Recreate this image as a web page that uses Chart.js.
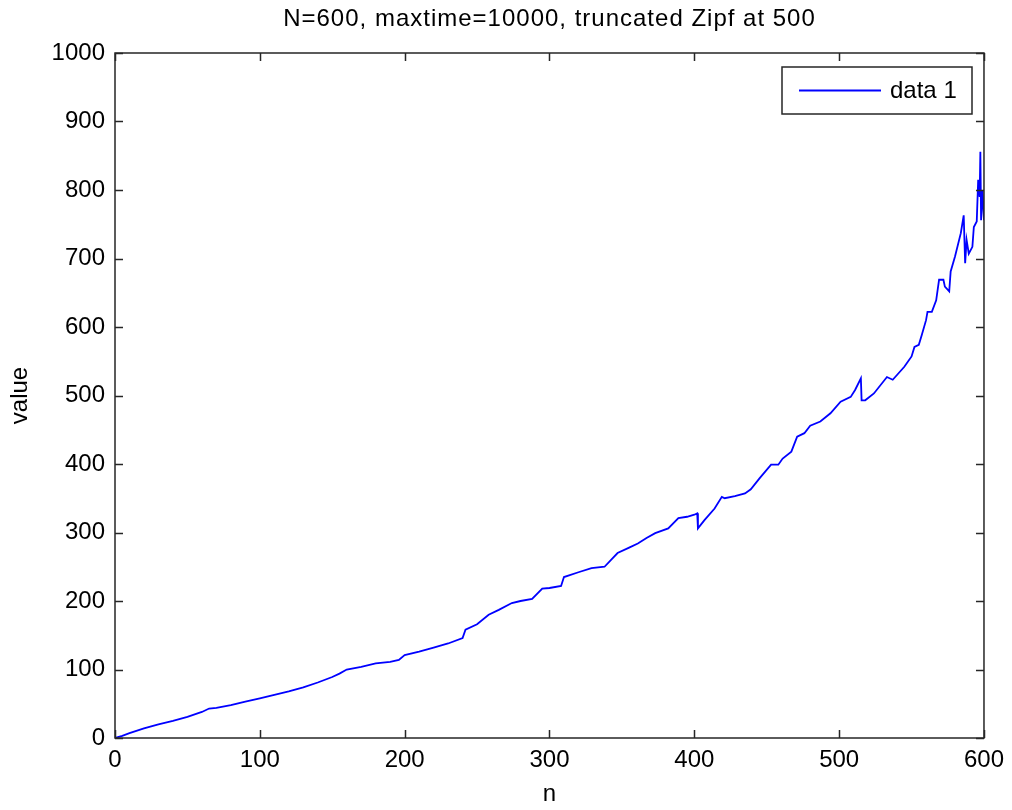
<!DOCTYPE html>
<html>
<head>
<meta charset="utf-8">
<script src="https://cdn.jsdelivr.net/npm/chart.js@4"></script>
<style>
  html, body { margin: 0; padding: 0; background: #fff; }
  #wrap { width: 1012px; height: 810px; }
</style>
</head>
<body>
<div id="wrap"><canvas id="plot" width="1012" height="810"></canvas></div>
<script>
const titleText = "N=600, maxtime=10000, truncated Zipf at 500";
const seriesName = "data 1";

const nValues = [0, 5, 10, 20, 30, 40, 50, 60, 65, 70, 80, 90, 100, 110, 120, 130, 140, 150, 155, 160,
  170, 180, 190, 196, 200, 210, 220, 230, 240, 242, 250, 258, 265, 274, 280, 288, 295, 300, 308, 310,
  320, 329, 338, 347, 355, 361, 367, 373, 382, 389, 395, 400, 402, 402.5, 407, 414, 419, 421, 428, 435,
  439, 445, 453, 458, 461, 467, 471, 476, 480, 487, 494, 501, 508, 511, 515, 515.5, 518, 524, 533, 537,
  545, 550, 552, 555, 557, 560, 561, 564, 567, 569, 572, 573, 576, 577, 580, 584, 586, 587, 588, 589.5,
  592, 593, 595, 596, 597, 597.5, 598, 599, 600];
const values = [0, 3, 7, 14, 20, 25, 31, 38, 43, 44, 48, 53, 58, 63, 68, 74, 81, 89, 94, 100,
  104, 109, 111, 114, 121, 126, 132, 138, 146, 158, 166, 180, 187, 197, 200, 203, 218, 219, 222, 235,
  242, 248, 250, 270, 278, 284, 292, 299, 306, 321, 323, 326, 328, 306, 318, 335, 352, 350, 353, 357,
  363, 379, 399, 399, 408, 418, 440, 445, 456, 462, 474, 491, 498, 508, 525, 493, 493, 503, 527, 523,
  542, 557, 571, 574, 588, 610, 622, 622, 639, 669, 669, 659, 652, 681, 703, 737, 763, 693, 727, 707,
  717, 746, 754, 815, 790, 856, 756, 800, 756];

const xTicks = [0, 100, 200, 300, 400, 500, 600];
const yTicks = [0, 100, 200, 300, 400, 500, 600, 700, 800, 900, 1000];

const axisColor = "#262626";
const fontFamily = "'Liberation Sans', Arial, sans-serif";
const fontSize = 24;

const boxPlugin = {
  id: "matlabBox",
  afterDraw(chart) {
    const ctx = chart.ctx;
    const a = chart.chartArea;
    const xs = chart.scales.x;
    const ys = chart.scales.y;
    const tl = 8;
    ctx.save();
    ctx.strokeStyle = axisColor;
    ctx.lineWidth = 1.5;
    ctx.strokeRect(a.left, a.top, a.right - a.left, a.bottom - a.top);
    ctx.beginPath();
    xTicks.forEach((v) => {
      const px = Math.round(xs.getPixelForValue(v)) + 0.5;
      ctx.moveTo(px, a.bottom); ctx.lineTo(px, a.bottom - tl);
      ctx.moveTo(px, a.top); ctx.lineTo(px, a.top + tl);
    });
    yTicks.forEach((v) => {
      const py = Math.round(ys.getPixelForValue(v)) + 0.5;
      ctx.moveTo(a.left, py); ctx.lineTo(a.left + tl, py);
      ctx.moveTo(a.right, py); ctx.lineTo(a.right - tl, py);
    });
    ctx.stroke();

    // title
    ctx.fillStyle = "#000";
    ctx.font = fontSize + "px " + fontFamily;
    ctx.textAlign = "center";
    ctx.textBaseline = "middle";
    ctx.letterSpacing = "1px";
    ctx.fillText(titleText, (a.left + a.right) / 2, 19);
    ctx.letterSpacing = "0px";

    // legend box
    const lx = 782, ly = 67, lw = 190, lh = 47;
    ctx.fillStyle = "#fff";
    ctx.fillRect(lx, ly, lw, lh);
    ctx.strokeStyle = axisColor;
    ctx.lineWidth = 1.5;
    ctx.strokeRect(lx, ly, lw, lh);
    ctx.strokeStyle = "#0000ff";
    ctx.lineWidth = 1.8;
    ctx.beginPath();
    ctx.moveTo(799, 90.5);
    ctx.lineTo(881, 90.5);
    ctx.stroke();
    ctx.fillStyle = "#000";
    ctx.textAlign = "left";
    ctx.fillText(seriesName, 890, 91);
    ctx.restore();
  }
};

new Chart(document.getElementById("plot"), {
  type: "scatter",
  data: {
    datasets: [
      {
        label: seriesName,
        data: nValues.map((n, i) => ({ x: n, y: values[i] })),
        showLine: true,
        borderColor: "#0000ff",
        backgroundColor: "#0000ff",
        borderWidth: 1.8,
        pointRadius: 0,
        tension: 0,
      },
    ],
  },
  options: {
    responsive: false,
    animation: false,
    layout: { padding: { top: 53, right: 25, left: 0, bottom: 0 } },
    plugins: {
      legend: { display: false },
      title: { display: false },
      tooltip: { enabled: false },
    },
    scales: {
      x: {
        type: "linear",
        min: 0,
        max: 600,
        afterFit: (s) => { s.height = 72; },
        afterBuildTicks: (s) => { s.ticks = xTicks.map((v) => ({ value: v })); },
        grid: { display: false, drawTicks: false },
        border: { display: false },
        ticks: { color: "#000", padding: 8, callback: (v) => String(v), font: { size: fontSize, family: fontFamily } },
        title: { display: true, text: "n", color: "#000", padding: { top: 0, bottom: 1 }, font: { size: fontSize, family: fontFamily } },
      },
      y: {
        min: 0,
        max: 1000,
        afterFit: (s) => { s.width = 115; },
        afterBuildTicks: (s) => { s.ticks = yTicks.map((v) => ({ value: v })); },
        grid: { display: false, drawTicks: false },
        border: { display: false },
        ticks: { color: "#000", padding: 10, callback: (v) => String(v), font: { size: fontSize, family: fontFamily } },
        title: { display: true, text: "value", color: "#000", padding: { top: 6, bottom: 0 }, font: { size: fontSize, family: fontFamily } },
      },
    },
  },
  plugins: [boxPlugin],
});
</script>
</body>
</html>
